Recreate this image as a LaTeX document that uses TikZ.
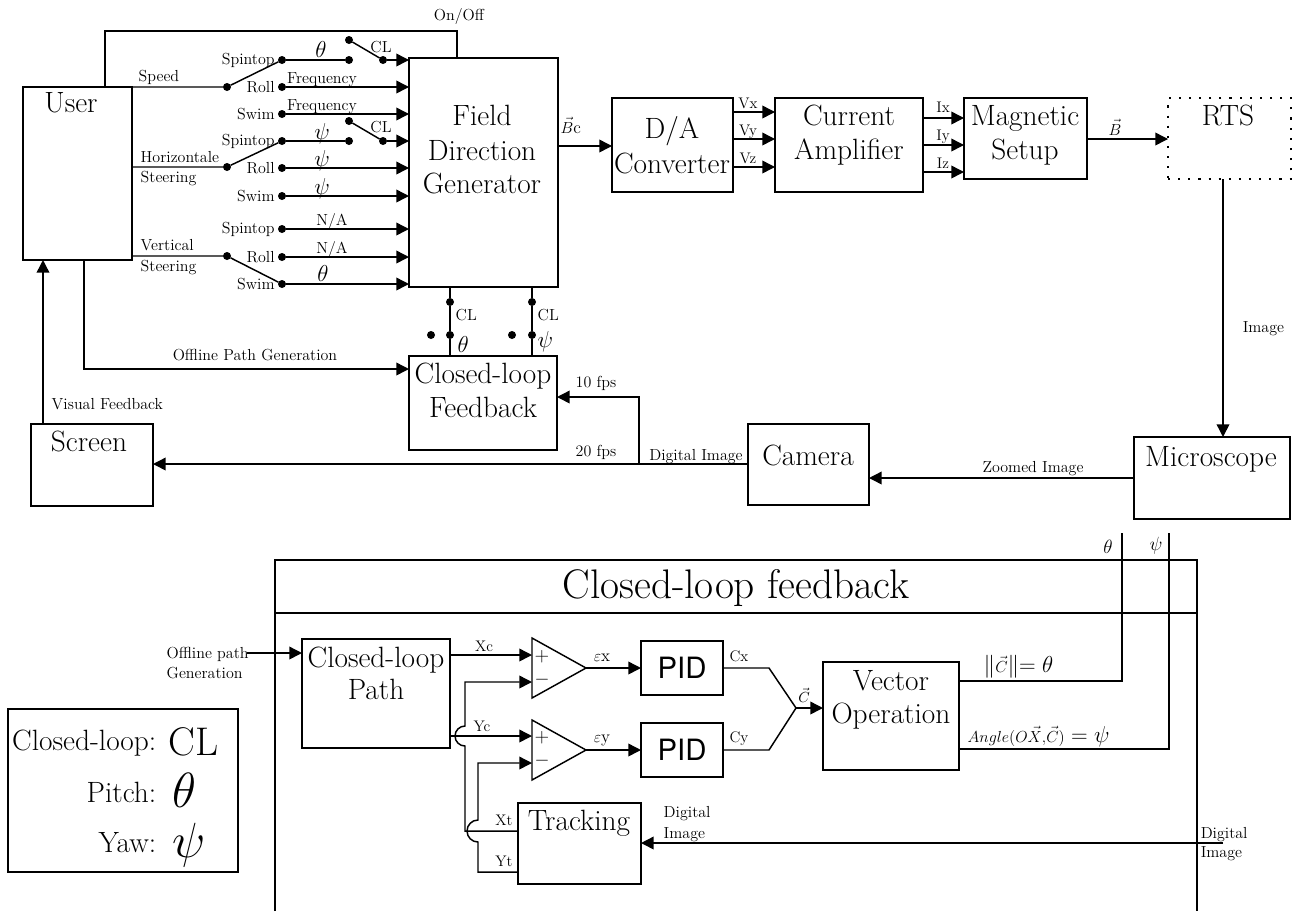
\documentclass[tikz,border=0pt]{standalone}
\usepackage{graphicx}
\usepackage{fontspec}
\newfontfamily\pidf{TeX Gyre Heros}
\usetikzlibrary{arrows.meta,fit}
\tikzset{
 bx/.style={draw, inner sep=0pt, outer sep=0pt},
 arr/.style={-{Triangle[length=9.5pt,width=9.5pt]}},
 dt/.style={circle, fill, inner sep=0pt, outer sep=0pt, minimum size=6pt},
 big/.style={inner sep=0pt, font=\fontsize{22}{26}\selectfont},
 sm/.style={inner sep=0pt, font=\fontsize{12}{14}\selectfont},
 xs/.style={inner sep=0pt, font=\fontsize{11.5}{13}\selectfont},
 mth/.style={inner sep=0pt, font=\fontsize{16}{19}\selectfont},
 pidt/.style={inner sep=0pt, font=\pidf\fontsize{22}{25}\selectfont},
}
\begin{document}
\begin{tikzpicture}[x=0.75pt,y=-0.75pt,line width=1.1pt]
\useasboundingbox (0,0) rectangle (1298,911);
% ---------------- boxes (top) ----------------
\node[bx, fit={(23,87) (132,260)}] (user) {};
\node[big, anchor=base] (tUser) at (71,112) {User};
\node[bx, fit={(409,58) (558,287)}] (field) {};
\node[big, anchor=base] (tF1) at (482,125) {Field};
\node[big, anchor=base] (tF2) at (482,160) {Direction};
\node[big, anchor=base] (tF3) at (482,193) {Generator};
\node[bx, fit={(612,98) (733,192)}] (da) {};
\node[big, anchor=base] (tDA1) at (672,138) {D/A};
\node[big, anchor=base] (tDA2) at (672,173) {Converter};
\node[bx, fit={(775,98) (923,192)}] (ca) {};
\node[big, anchor=base] (tCA1) at (849,125) {Current};
\node[big, anchor=base] (tCA2) at (849,159) {Amplifier};
\node[bx, fit={(964,98) (1087,179)}] (mag) {};
\node[big, anchor=base] (tM1) at (1025,125) {Magnetic};
\node[big, anchor=base] (tM2) at (1025,159) {Setup};
\node[bx, dash pattern=on 1.6pt off 6pt, line width=1.5pt, fit={(1168,98) (1291,179)}] (rts) {};
\node[big, anchor=base] (tRTS) at (1228,125) {RTS};
\node[bx, fit={(1134,437) (1290,519)}] (mic) {};
\node[big, anchor=base] (tMic) at (1211,466) {Microscope};
\node[bx, fit={(748,424) (869,505)}] (cam) {};
\node[big, anchor=base] (tCam) at (808,465) {Camera};
\node[bx, fit={(31,424) (153,506)}] (scr) {};
\node[big, anchor=base] (tScr) at (89,451) {Screen};
\node[bx, fit={(409,356) (557,450)}] (clf) {};
\node[big, anchor=base] (tC1) at (483,383) {Closed-loop};
\node[big, anchor=base] (tC2) at (483,417) {Feedback};
% ---------------- On/Off ----------------
\draw (user.north -| 105,0) -- (105,31) -- (457,31) -- (field.north -| 457,0);
\node[sm, anchor=base] (tOO) at (459,20) {On/Off};
% ---------------- Speed switch ----------------
\node[dt] (sp) at (227,87) {};
\node[dt] (sp1) at (282,60) {};
\node[dt] (ro1) at (282,87) {};
\node[dt] (sw1) at (282,114) {};
\node[dt] (c1a) at (349,60) {};
\node[dt] (c1b) at (349,40) {};
\node[dt] (c1c) at (383,60) {};
\draw (user.north east) -- (sp) -- (sp1);
\draw (sp1) -- (c1a);
\draw (c1b) -- (c1c);
\draw[arr] (c1c) -- (c1c -| field.west);
\draw[arr] (ro1) -- (ro1 -| field.west);
\draw[arr] (sw1) -- (sw1 -| field.west);
\node[sm, anchor=base west] (tSpeed) at (138,81) {Speed};
\node[sm, anchor=east] (lsp1) at ([xshift=-2pt]sp1.west) {Spintop};
\node[sm, anchor=east] (lro1) at ([xshift=-2pt]ro1.west) {Roll};
\node[sm, anchor=east] (lsw1) at ([xshift=-2pt]sw1.west) {Swim};
\node[mth, anchor=base] (th1) at (321,57) {$\theta$};
\node[sm, anchor=base] (cl1) at (381,52) {CL};
\node[sm, anchor=base] (fq1) at (322,83) {Frequency};
\node[sm, anchor=base] (fq2) at (322,110) {Frequency};
% ---------------- Horizontal steering ----------------
\node[dt] (hp) at (227,167) {};
\node[dt] (sp2) at (282,141) {};
\node[dt] (ro2) at (282,168) {};
\node[dt] (sw2) at (282,196) {};
\node[dt] (c2a) at (349,141) {};
\node[dt] (c2b) at (349,121) {};
\node[dt] (c2c) at (383,141) {};
\draw (user.east |- hp) -- (hp) -- (sp2);
\draw (sp2) -- (c2a);
\draw (c2b) -- (c2c);
\draw[arr] (c2c) -- (c2c -| field.west);
\draw[arr] (ro2) -- (ro2 -| field.west);
\draw[arr] (sw2) -- (sw2 -| field.west);
\node[sm, anchor=base west] (tH1) at (140,162) {Horizontale};
\node[sm, anchor=base west] (tH2) at (140,182) {Steering};
\node[sm, anchor=east] (lsp2) at ([xshift=-2pt]sp2.west) {Spintop};
\node[sm, anchor=east] (lro2) at ([xshift=-2pt]ro2.west) {Roll};
\node[sm, anchor=east] (lsw2) at ([xshift=-2pt]sw2.west) {Swim};
\node[sm, anchor=base] (cl2) at (381,132) {CL};
\node[mth, anchor=base] (ps1) at (322,139) {$\psi$};
\node[mth, anchor=base] (ps2) at (322,166) {$\psi$};
\node[mth, anchor=base] (ps3) at (322,194) {$\psi$};
% ---------------- Vertical steering ----------------
\node[dt] (vp) at (227,256) {};
\node[dt] (sp3) at (282,229) {};
\node[dt] (ro3) at (282,257) {};
\node[dt] (sw3) at (282,284) {};
\draw (user.east |- vp) -- (vp) -- (sw3);
\draw[arr] (sp3) -- (sp3 -| field.west);
\draw[arr] (ro3) -- (ro3 -| field.west);
\draw[arr] (sw3) -- (sw3 -| field.west);
\node[sm, anchor=base west] (tV1) at (140,250) {Vertical};
\node[sm, anchor=base west] (tV2) at (140,271) {Steering};
\node[sm, anchor=east] (lsp3) at ([xshift=-2pt]sp3.west) {Spintop};
\node[sm, anchor=east] (lro3) at ([xshift=-2pt]ro3.west) {Roll};
\node[sm, anchor=east] (lsw3) at ([xshift=-2pt]sw3.west) {Swim};
\node[sm, anchor=base] (na1) at (332,225) {N/A};
\node[sm, anchor=base] (na2) at (332,253) {N/A};
\node[mth, anchor=base] (th2) at (323,281) {$\theta$};
% ---------------- signal chain ----------------
\draw[arr] (field.east |- 0,146) -- (da.west |- 0,146);
\node[inner sep=0pt, anchor=base west, font=\fontsize{13}{15}\selectfont] (tBc) at (560,133) {$\vec{B}$c};
\draw[arr] (da.east |- 0,112) -- (ca.west |- 0,112);
\draw[arr] (da.east |- 0,139) -- (ca.west |- 0,139);
\draw[arr] (da.east |- 0,167) -- (ca.west |- 0,167);
\node[xs, anchor=base] (tVx) at (748,108) {Vx};
\node[xs, anchor=base] (tVy) at (748,135) {Vy};
\node[xs, anchor=base] (tVz) at (748,163) {Vz};
\draw[arr] (ca.east |- 0,118) -- (mag.west |- 0,118);
\draw[arr] (ca.east |- 0,145) -- (mag.west |- 0,145);
\draw[arr] (ca.east |- 0,172) -- (mag.west |- 0,172);
\node[xs, anchor=base] (tIx) at (943,112) {Ix};
\node[xs, anchor=base] (tIy) at (943,140) {Iy};
\node[xs, anchor=base] (tIz) at (943,168) {Iz};
\draw[arr] (mag.east |- 0,139) -- (rts.west |- 0,139);
\node[inner sep=0pt, anchor=base, font=\fontsize{13}{15}\selectfont] (tB) at (1115,135) {$\vec{B}$};
\draw[arr] (1223,0 |- rts.south) -- (1223,0 |- mic.north);
\node[sm, anchor=base west] (tImg) at (1242,332) {Image};
\draw[arr] (mic.west |- 0,478) -- (cam.east |- 0,478);
\node[sm, anchor=base] (tZoom) at (1033,472) {Zoomed Image};
\draw[arr] (cam.west |- 0,464) -- (scr.east |- 0,464);
\coordinate (br) at (639,464);
\draw[arr] (br) |- (clf.east |- 0,397);
\node[sm, anchor=base] (tDI) at (696,460) {Digital Image};
\node[sm, anchor=base] (t20) at (596,456) {20 fps};
\node[sm, anchor=base] (t10) at (596,387) {10 fps};
\draw[arr] (scr.north -| 43,0) -- (user.south -| 43,0);
\node[sm, anchor=base west] (tVF) at (51,409) {Visual Feedback};
\draw[arr] (user.south -| 84,0) |- (clf.west |- 0,369);
\node[sm, anchor=base] (tOPG) at (255,360) {Offline Path Generation};
% ---------------- CL switches under the generator ----------------
\node[dt] (d1a) at (450,302) {};
\node[dt] (d1b) at (450,335) {};
\node[dt] (d1c) at (431,335) {};
\node[dt] (d2a) at (532,302) {};
\node[dt] (d2b) at (532,335) {};
\node[dt] (d2c) at (512,335) {};
\draw (field.south -| d1a) -- (d1a) -- (d1b) -- (clf.north -| d1b);
\draw (field.south -| d2a) -- (d2a) -- (d2b) -- (clf.north -| d2b);
\node[sm, anchor=base west] (cl3) at (455,320) {CL};
\node[sm, anchor=base west] (cl4) at (537,320) {CL};
\node[mth, anchor=base west] (th3) at (457,352) {$\theta$};
\node[mth, anchor=base west] (ps4) at (537,347) {$\psi$};
% ---------------- Closed-loop feedback detail ----------------
\draw (275,911) -- (275,560) -- (1197,560) -- (1197,911);
\draw (275,613) -- (1197,613);
\node[inner sep=0pt, anchor=base, font=\fontsize{31}{35}\selectfont] (tTitle) at (736,598) {Closed-loop feedback};
\node[bx, fit={(302,639) (450,748)}] (path) {};
\node[big, anchor=base] (tP1) at (376,667) {Closed-loop};
\node[big, anchor=base] (tP2) at (376,699) {Path};
\node[sm, anchor=base west] (tOff1) at (166,658) {Offline path};
\node[sm, anchor=base west] (tOff2) at (166,678) {Generation};
\coordinate (off) at (247,653);
\draw[arr] (off) -- (path.west |- off);
% comparators
\coordinate (c1t) at (586,668);
\coordinate (c1p) at (532,655);
\coordinate (c1m) at (532,682);
\coordinate (c2t) at (586,750);
\coordinate (c2p) at (532,736);
\coordinate (c2m) at (532,763);
\draw[line join=miter] (532,638) -- (532,698) -- (c1t) -- cycle;
\draw[line join=miter] (532,720) -- (532,780) -- (c2t) -- cycle;
\node[inner sep=0pt, font=\fontsize{14}{16}\selectfont] (pl1) at (542,657) {$+$};
\node[inner sep=0pt, font=\fontsize{14}{16}\selectfont] (mi1) at (542,680) {$-$};
\node[inner sep=0pt, font=\fontsize{14}{16}\selectfont] (pl2) at (542,738) {$+$};
\node[inner sep=0pt, font=\fontsize{14}{16}\selectfont] (mi2) at (542,761) {$-$};
\node[bx, fit={(518,803) (641,884)}] (track) {};
\node[big, anchor=base] (tTr) at (579,830) {Tracking};
\draw[arr] (path.east |- c1p) -- (c1p);
\draw[arr] (path.east |- c2p) -- (c2p);
\node[xs, anchor=base] (tXc) at (484,651) {Xc};
\node[xs, anchor=base] (tYc) at (482,731) {Yc};
\draw[arr] (track.west |- 0,831) -- (465,831) -- (465,746) arc[start angle=90, end angle=270, radius=10] -- (465,682) -- (c1m);
\draw[arr] (track.west |- 0,872) -- (478,872) -- (478,842) arc[start angle=90, end angle=270, radius=11] -- (478,763) -- (c2m);
\node[xs, anchor=base] (tXt) at (504,825) {Xt};
\node[xs, anchor=base] (tYt) at (504,866) {Yt};
% PIDs
\node[bx, fit={(641,641) (723,695)}] (pid1) {};
\node[bx, fit={(641,723) (723,777)}] (pid2) {};
\node[pidt] (tPID1) at (pid1.center) {PID};
\node[pidt] (tPID2) at (pid2.center) {PID};
\draw[arr] (c1t) -- (pid1.west |- c1t);
\draw[arr] (c2t) -- (pid2.west |- c2t);
\node[inner sep=0pt, anchor=base, font=\fontsize{13}{15}\selectfont] (tex) at (602,661) {$\varepsilon$x};
\node[inner sep=0pt, anchor=base, font=\fontsize{13}{15}\selectfont] (tey) at (602,742) {$\varepsilon$y};
% vector operation
\node[bx, fit={(823,662) (959,770)}] (vo) {};
\node[big, anchor=base] (tVO1) at (891,690) {Vector};
\node[big, anchor=base] (tVO2) at (891,723) {Operation};
\coordinate (cj) at (796,708);
\draw (pid1.east |- 0,668) -- (769,668) -- (cj);
\draw (pid2.east |- 0,750) -- (769,750) -- (cj);
\draw[arr] (cj) -- (vo.west |- cj);
\node[xs, anchor=base] (tCx) at (739,661) {Cx};
\node[xs, anchor=base] (tCy) at (739,742) {Cy};
\node[inner sep=0pt, anchor=base, font=\fontsize{11}{13}\selectfont] (tC) at (804,702) {$\vec{C}$};
\coordinate (thtop) at (1122,533);
\coordinate (pstop) at (1169,533);
\draw (vo.east |- 0,681) -| (thtop);
\draw (vo.east |- 0,749) -| (pstop);
\node[inner sep=0pt, anchor=base, font=\fontsize{15}{18}\selectfont] (th4) at (1108,553) {$\theta$};
\node[inner sep=0pt, anchor=base, font=\fontsize{15}{18}\selectfont] (ps5) at (1156,550) {$\psi$};
\node[inner sep=0pt, anchor=base west, font=\fontsize{17}{20}\selectfont] (tNorm) at (983,672) {$\|{\scriptstyle\vec{C}}\|\mkern-5mu=\theta$};
\node[inner sep=0pt, anchor=base west, font=\fontsize{17}{20}\selectfont] (tAng) at (967,742) {${\scriptstyle Angle(O\vec{X},\vec{C})}=\psi$};
% digital image into tracking
\coordinate (di) at (1223,843);
\draw[arr] (di) -- (track.east |- di);
\node[sm, anchor=base west] (tDI1) at (663,817) {Digital};
\node[sm, anchor=base west] (tDI2) at (663,838) {Image};
\node[sm, anchor=base west] (tDI3) at (1200,838) {Digital};
\node[sm, anchor=base west] (tDI4) at (1200,857) {Image};
% ---------------- legend ----------------
\node[bx, fit={(8,709) (238,872)}] (leg) {};
\node[big, anchor=base east] (lg1) at (157,750) {Closed-loop:};
\node[inner sep=0pt, anchor=base west, font=\fontsize{30}{33}\selectfont] (lg1b) at (168,755) {CL};
\node[big, anchor=base east] (lg2) at (157,802) {Pitch:};
\node[inner sep=0pt, anchor=base west, font=\fontsize{24.88}{30}\selectfont] (lg2b) at (172,807) {\scalebox{1.49}{$\theta$}};
\node[big, anchor=base east] (lg3) at (157,852) {Yaw:};
\node[inner sep=0pt, anchor=base west, font=\fontsize{24.88}{30}\selectfont] (lg3b) at (172,857) {\scalebox{1.49}{$\psi$}};
\end{tikzpicture}
\end{document}
